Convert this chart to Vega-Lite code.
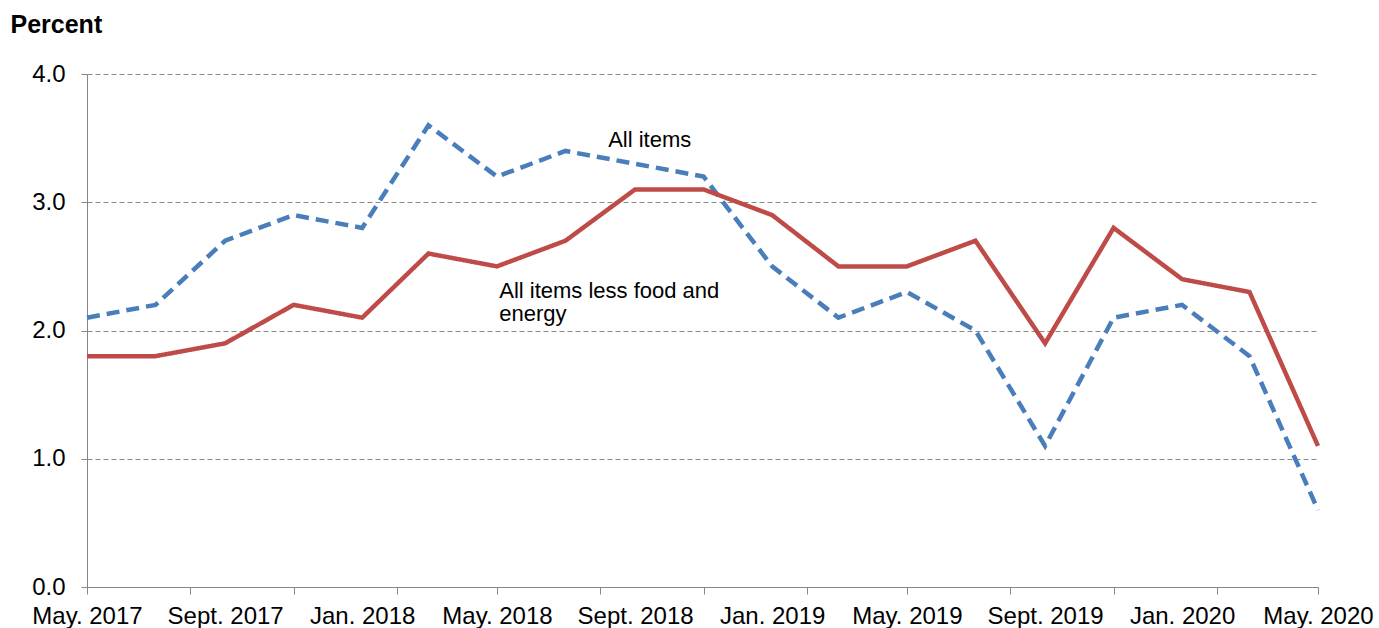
{
  "$schema": "https://vega.github.io/schema/vega-lite/v6.json",
  "width": 1231,
  "height": 513,
  "autosize": "none",
  "padding": {"left": 87, "top": 74, "right": 61, "bottom": 41},
  "background": "white",
  "config": {
    "font": "Liberation Sans",
    "view": {"stroke": null}
  },
  "datasets": {
    "cpi": [
      {"date": "2017-05-01", "series": "All items", "value": 2.1},
      {"date": "2017-07-01", "series": "All items", "value": 2.2},
      {"date": "2017-09-01", "series": "All items", "value": 2.7},
      {"date": "2017-11-01", "series": "All items", "value": 2.9},
      {"date": "2018-01-01", "series": "All items", "value": 2.8},
      {"date": "2018-03-01", "series": "All items", "value": 3.6},
      {"date": "2018-05-01", "series": "All items", "value": 3.2},
      {"date": "2018-07-01", "series": "All items", "value": 3.4},
      {"date": "2018-09-01", "series": "All items", "value": 3.3},
      {"date": "2018-11-01", "series": "All items", "value": 3.2},
      {"date": "2019-01-01", "series": "All items", "value": 2.5},
      {"date": "2019-03-01", "series": "All items", "value": 2.1},
      {"date": "2019-05-01", "series": "All items", "value": 2.3},
      {"date": "2019-07-01", "series": "All items", "value": 2.0},
      {"date": "2019-09-01", "series": "All items", "value": 1.1},
      {"date": "2019-11-01", "series": "All items", "value": 2.1},
      {"date": "2020-01-01", "series": "All items", "value": 2.2},
      {"date": "2020-03-01", "series": "All items", "value": 1.8},
      {"date": "2020-05-01", "series": "All items", "value": 0.6},
      {"date": "2017-05-01", "series": "All items less food and energy", "value": 1.8},
      {"date": "2017-07-01", "series": "All items less food and energy", "value": 1.8},
      {"date": "2017-09-01", "series": "All items less food and energy", "value": 1.9},
      {"date": "2017-11-01", "series": "All items less food and energy", "value": 2.2},
      {"date": "2018-01-01", "series": "All items less food and energy", "value": 2.1},
      {"date": "2018-03-01", "series": "All items less food and energy", "value": 2.6},
      {"date": "2018-05-01", "series": "All items less food and energy", "value": 2.5},
      {"date": "2018-07-01", "series": "All items less food and energy", "value": 2.7},
      {"date": "2018-09-01", "series": "All items less food and energy", "value": 3.1},
      {"date": "2018-11-01", "series": "All items less food and energy", "value": 3.1},
      {"date": "2019-01-01", "series": "All items less food and energy", "value": 2.9},
      {"date": "2019-03-01", "series": "All items less food and energy", "value": 2.5},
      {"date": "2019-05-01", "series": "All items less food and energy", "value": 2.5},
      {"date": "2019-07-01", "series": "All items less food and energy", "value": 2.7},
      {"date": "2019-09-01", "series": "All items less food and energy", "value": 1.9},
      {"date": "2019-11-01", "series": "All items less food and energy", "value": 2.8},
      {"date": "2020-01-01", "series": "All items less food and energy", "value": 2.4},
      {"date": "2020-03-01", "series": "All items less food and energy", "value": 2.3},
      {"date": "2020-05-01", "series": "All items less food and energy", "value": 1.1}
    ],
    "notes": [
      {"date": "2018-08-08", "value": 3.43, "label": "All items"},
      {"date": "2018-05-03", "value": 2.25, "label": "All items less food and"},
      {"date": "2018-05-03", "value": 2.075, "label": "energy"}
    ]
  },
  "layer": [
    {
      "data": {"name": "cpi"},
      "mark": {"type": "line", "strokeWidth": 4.5, "strokeJoin": "miter"},
      "encoding": {
        "x": {
          "field": "date",
          "type": "temporal",
          "scale": {
            "type": "utc",
            "nice": false,
            "domain": [
              {"year": 2017, "month": 5, "date": 1, "utc": true},
              {"year": 2020, "month": 5, "date": 1, "utc": true}
            ]
          },
          "axis": {
            "orient": "bottom",
            "title": null,
            "labels": false,
            "grid": false,
            "ticks": true,
            "tickSize": 7,
            "tickColor": "#868686",
            "tickWidth": 1,
            "domain": true,
            "domainColor": "#868686",
            "domainWidth": 1,
            "values": [
              {"year": 2017, "month": 5, "date": 1, "utc": true},
              {"year": 2017, "month": 8, "date": 1, "utc": true},
              {"year": 2017, "month": 11, "date": 1, "utc": true},
              {"year": 2018, "month": 2, "date": 1, "utc": true},
              {"year": 2018, "month": 5, "date": 1, "utc": true},
              {"year": 2018, "month": 8, "date": 1, "utc": true},
              {"year": 2018, "month": 11, "date": 1, "utc": true},
              {"year": 2019, "month": 2, "date": 1, "utc": true},
              {"year": 2019, "month": 5, "date": 1, "utc": true},
              {"year": 2019, "month": 8, "date": 1, "utc": true},
              {"year": 2019, "month": 11, "date": 1, "utc": true},
              {"year": 2020, "month": 2, "date": 1, "utc": true},
              {"year": 2020, "month": 5, "date": 1, "utc": true}
            ]
          }
        },
        "y": {
          "field": "value",
          "type": "quantitative",
          "scale": {"domain": [0, 4], "nice": false},
          "axis": {
            "orient": "left",
            "values": [0, 1, 2, 3, 4],
            "format": ".1f",
            "grid": true,
            "gridColor": "#8a8a8a",
            "gridDash": [5, 3],
            "gridWidth": 1,
            "domain": true,
            "domainColor": "#868686",
            "domainWidth": 1,
            "ticks": true,
            "tickSize": 6,
            "tickColor": "#868686",
            "labelFontSize": 24,
            "labelColor": "#000000",
            "labelPadding": 16,
            "labelBaseline": "middle",
            "title": "Percent",
            "titleAngle": 0,
            "titleAlign": "left",
            "titleBaseline": "alphabetic",
            "titleX": -77,
            "titleY": -42,
            "titleFontSize": 25,
            "titleFontWeight": "bold",
            "titleColor": "#000000"
          }
        },
        "color": {
          "field": "series",
          "type": "nominal",
          "scale": {
            "domain": ["All items", "All items less food and energy"],
            "range": ["#4a7ebb", "#be4b48"]
          },
          "legend": null
        },
        "strokeDash": {
          "field": "series",
          "type": "nominal",
          "scale": {
            "domain": ["All items", "All items less food and energy"],
            "range": [[13, 7], [1, 0]]
          },
          "legend": null
        }
      }
    },
    {
      "data": {"name": "notes"},
      "mark": {"type": "text", "align": "left", "baseline": "alphabetic", "fontSize": 22, "color": "#000000"},
      "encoding": {
        "x": {
          "field": "date",
          "type": "temporal",
          "axis": {
            "orient": "bottom",
            "title": null,
            "grid": false,
            "ticks": false,
            "tickSize": 0,
            "domain": false,
            "labelFontSize": 24,
            "labelColor": "#000000",
            "labelPadding": 36,
            "labelBaseline": "alphabetic",
            "labelAlign": "center",
            "labelOverlap": false,
            "labelFlush": false,
            "labelBound": false,
            "labelExpr": "utcFormat(datum.value, '%m') == '09' ? 'Sept. ' + utcFormat(datum.value, '%Y') : utcFormat(datum.value, '%b. %Y')",
            "values": [
              {"year": 2017, "month": 5, "date": 1, "utc": true},
              {"year": 2017, "month": 9, "date": 1, "utc": true},
              {"year": 2018, "month": 1, "date": 1, "utc": true},
              {"year": 2018, "month": 5, "date": 1, "utc": true},
              {"year": 2018, "month": 9, "date": 1, "utc": true},
              {"year": 2019, "month": 1, "date": 1, "utc": true},
              {"year": 2019, "month": 5, "date": 1, "utc": true},
              {"year": 2019, "month": 9, "date": 1, "utc": true},
              {"year": 2020, "month": 1, "date": 1, "utc": true},
              {"year": 2020, "month": 5, "date": 1, "utc": true}
            ]
          }
        },
        "y": {"field": "value", "type": "quantitative", "axis": null},
        "text": {"field": "label"}
      }
    }
  ],
  "resolve": {"axis": {"x": "independent", "y": "independent"}}
}
